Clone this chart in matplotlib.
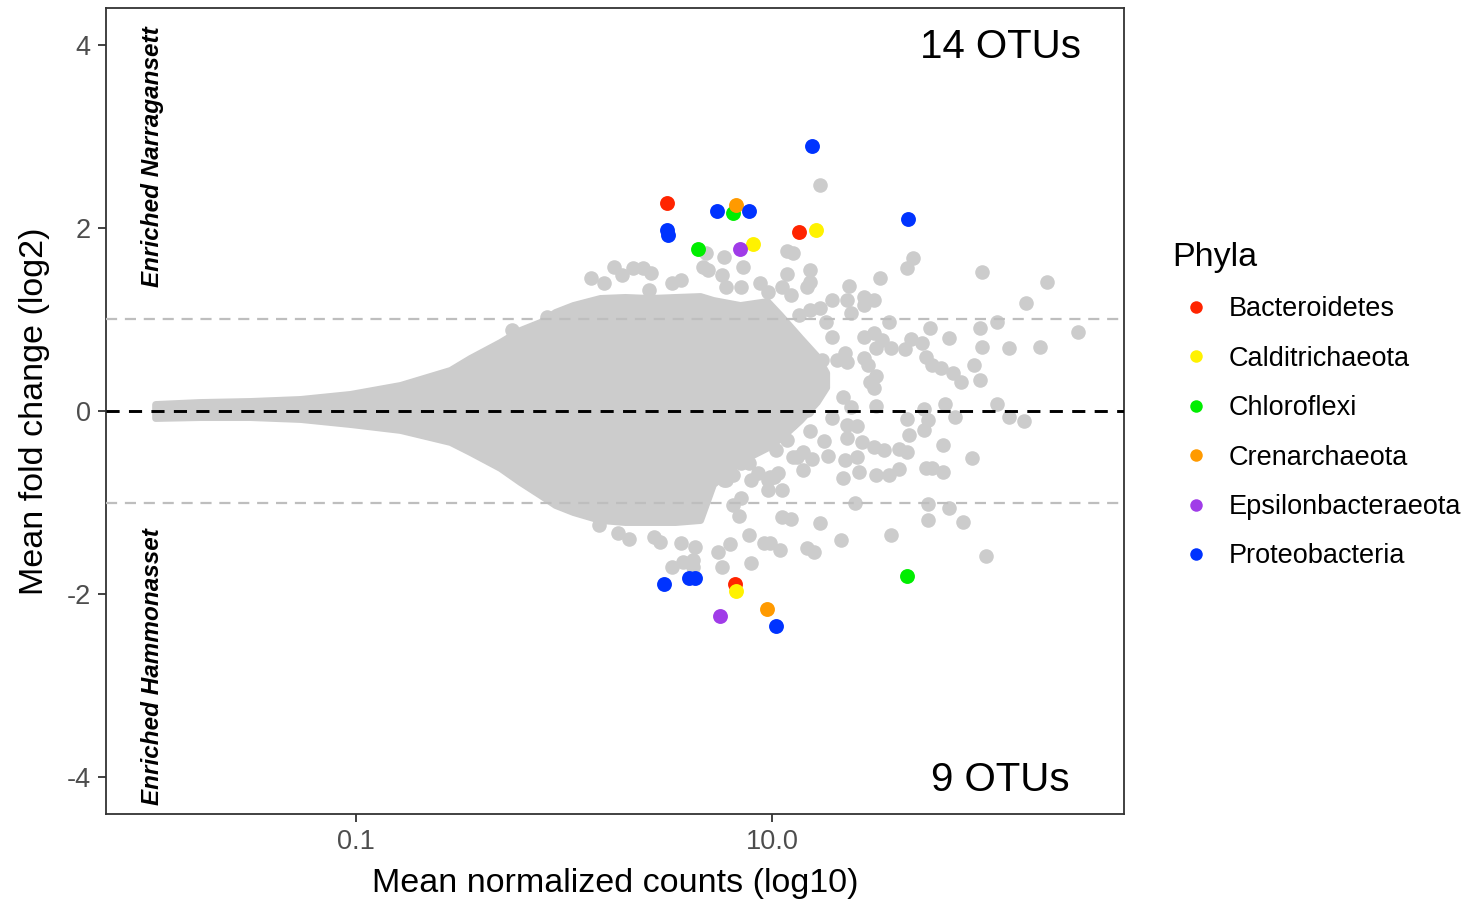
import numpy as np
import matplotlib
matplotlib.use("Agg")
import matplotlib.pyplot as plt
from matplotlib.lines import Line2D

plt.rcParams["font.family"] = ["Liberation Sans", "DejaVu Sans"]

# ---- dense cloud of non-significant OTUs: outer envelope (log10 base mean, log2 FC)
env_log_mean = [-1.966, -1.75, -1.51, -1.269, -1.029, -0.788, -0.548, -0.452, -0.308,
                -0.212, -0.115, -0.043, 0.043, 0.173, 0.293, 0.413, 0.534, 0.654,
                0.716, 0.846, 0.976, 1.038, 1.135, 1.215, 1.26]
env_upper = [0.076, 0.098, 0.109, 0.131, 0.186, 0.284, 0.448, 0.579, 0.753,
             0.884, 0.972, 1.081, 1.157, 1.234, 1.245, 1.234, 1.245, 1.255,
             1.212, 1.157, 1.200, 1.050, 0.800, 0.600, 0.420]
env_lower = [-0.076, -0.066, -0.066, -0.087, -0.142, -0.207, -0.338, -0.448, -0.622,
             -0.775, -0.917, -1.026, -1.103, -1.190, -1.212, -1.212, -1.212, -1.190,
             -0.800, -0.550, -0.400, -0.300, -0.100, 0.100, 0.260]

# ---- scattered non-significant OTUs outside the dense cloud
gray_log_mean = [
    1.23, 0.68, 0.77, 0.86, 0.67, 0.69, 0.76, 0.78, 1.07, 1.10, 1.07, 1.18, 1.18, 1.17,
    1.68, 1.65, 1.52, 1.37, 0.24, 0.33, 0.38, 0.42, 0.28, 0.13, 0.19, 0.94, 0.98, 1.29,
    1.36, 1.44, 1.49, -0.08, -0.25, 0.41, 0.52, 0.56, 0.85, 1.05, 1.09, 2.01, 2.32, 2.22,
    1.38, 1.44, 1.18, 1.23, 1.13, 1.26, 1.56, 1.76, 1.85, 2.00, 2.08, 2.47, 2.01, 2.14,
    2.29, 1.44, 1.49, 1.53, 1.50, 1.57, 1.29, 1.64, 1.67, 1.72, 1.74, 1.77, 1.81, 1.87,
    1.91, 1.97, 2.00, 1.35, 1.31, 1.36, 1.24, 1.44, 1.46, 1.50, 1.47, 1.49, 1.34, 1.38,
    1.50, 1.29, 1.83, 2.08, 1.73, 1.75, 1.73, 1.65, 1.88, 2.14, 2.21, 1.36, 1.41, 1.18,
    1.25, 1.36, 1.43, 1.66, 1.49, 1.54, 1.61, 1.65, 1.82, 1.96, 1.12, 1.15, 1.19, 1.27,
    1.35, 1.41, 1.15, 1.34, 1.42, 1.50, 1.56, 1.61, 1.74, 1.77, 1.82, 1.40, 1.75, 1.85,
    1.75, 1.92, 1.05, 1.09, 1.23, 1.57, 1.33, 1.17, 1.20, 1.04, 0.96, 0.99, 0.89, 0.80,
    0.74, 0.90, 0.76, 2.03, 1.05, 0.98, 0.98, 0.85, 0.81, 0.84, 0.52, 0.57, 0.62, 0.62,
    0.56, 0.63, 0.26, 0.31, 0.43, 0.46, 0.17, 0.77, 0.81, 0.99, 1.03, 0.90,
    1.10, 1.14, 1.18, 1.22, 1.14, 1.10, 1.18, 1.07, 1.17, 1.09, 0.99, 1.02, 0.89,
    1.07, 1.10, 1.01, 0.91, 0.85, 0.78, 0.93, 1.01,
]
gray_lfc = [
    2.47, 1.72, 1.68, 1.57, 1.57, 1.54, 1.48, 1.35, 1.75, 1.72, 1.50, 1.54, 1.41, 1.35,
    1.67, 1.56, 1.45, 1.36, 1.57, 1.56, 1.56, 1.51, 1.48, 1.45, 1.40, 1.40, 1.30, 1.21,
    1.21, 1.24, 1.21, 1.03, 0.88, 1.32, 1.40, 1.43, 1.35, 1.35, 1.27, 1.52, 1.41, 1.18,
    1.07, 1.16, 1.10, 1.12, 1.05, 0.97, 0.97, 0.91, 0.80, 0.91, 0.97, 0.86, 0.70, 0.69,
    0.70, 0.81, 0.85, 0.78, 0.69, 0.69, 0.81, 0.68, 0.79, 0.74, 0.59, 0.50, 0.47, 0.41,
    0.32, 0.50, 0.34, 0.63, 0.56, 0.53, 0.56, 0.58, 0.50, 0.38, 0.32, 0.25, 0.15, 0.04,
    0.05, -0.08, 0.08, 0.08, 0.02, -0.10, -0.21, -0.09, -0.07, -0.07, -0.11, -0.15, -0.16, -0.22,
    -0.33, -0.29, -0.34, -0.26, -0.39, -0.43, -0.41, -0.45, -0.37, -0.51, -0.50, -0.45, -0.52, -0.49,
    -0.53, -0.50, -0.64, -0.73, -0.67, -0.70, -0.70, -0.63, -0.62, -0.62, -0.67, -1.00, -1.02, -1.06,
    -1.19, -1.21, -1.16, -1.18, -1.22, -1.35, -1.41, -1.50, -1.54, -1.52, -1.44, -1.44, -1.35, -1.45,
    -1.54, -1.66, -1.70, -1.58, -0.86, -0.86, -0.75, -0.95, -1.03, -1.15, -1.70, -1.65, -1.63, -1.70,
    -1.44, -1.48, -1.33, -1.40, -1.38, -1.43, -1.24, -0.75, -0.70, -0.72, -0.68, -0.75,
    0.81, 0.67, 0.59, 0.48, 0.37, 0.23, 0.26, 0.04, 0.01, -0.13, -0.28, -0.43, -0.57,
    -0.32, -0.50, -0.72, -0.35, -0.57, -0.75, -0.68, -0.21,
]

# ---- significant OTUs by phylum (log10 base mean, log2 FC)
phyla = ["Bacteroidetes", "Calditrichaeota", "Chloroflexi",
         "Crenarchaeota", "Epsilonbacteraeota", "Proteobacteria"]
phyla_colors = ["#FF2400", "#FFF200", "#00EE00", "#FF9A00", "#A03CE8", "#0033FF"]
sig_log_mean = {
    "Bacteroidetes": [0.495, 1.130, 0.822],
    "Calditrichaeota": [0.909, 1.212, 0.827],
    "Chloroflexi": [0.813, 0.644, 1.649],
    "Crenarchaeota": [0.827, 0.976],
    "Epsilonbacteraeota": [0.846, 0.750],
    "Proteobacteria": [0.495, 0.500, 0.736, 0.889, 1.192, 1.654, 0.481, 0.601, 0.630, 1.019],
}
sig_lfc = {
    "Bacteroidetes": [2.271, 1.954, -1.889],
    "Calditrichaeota": [1.823, 1.976, -1.965],
    "Chloroflexi": [2.162, 1.769, -1.801],
    "Crenarchaeota": [2.249, -2.162],
    "Epsilonbacteraeota": [1.769, -2.238],
    "Proteobacteria": [1.976, 1.921, 2.183, 2.183, 2.893, 2.096, -1.889, -1.823, -1.823, -2.347],
}

n_up = sum(sum(1 for v in vals if v > 0) for vals in sig_lfc.values())
n_down = sum(sum(1 for v in vals if v < 0) for vals in sig_lfc.values())

GRAY = "#CCCCCC"
TXT = "#000000"
TICK = "#4D4D4D"

fig = plt.figure(figsize=(14.71, 9.01), dpi=100)
ax = fig.add_axes([0.0721, 0.0966, 0.6920, 0.8945])

env_x = 10 ** np.array(env_log_mean)
ax.fill_between(env_x, env_lower, env_upper, facecolor=GRAY, edgecolor=GRAY,
                linewidth=5, joinstyle="round", zorder=1)
ax.scatter(10 ** np.array(gray_log_mean), gray_lfc, s=110, color=GRAY,
           linewidths=0, zorder=2)

ax.axhline(1, color="#BEBEBE", lw=1.6, dashes=(5, 3.5), zorder=3)
ax.axhline(-1, color="#BEBEBE", lw=1.6, dashes=(5, 3.5), zorder=3)
ax.axhline(0, color="black", lw=2.1, dashes=(4.5, 3.2), zorder=3)

for name, col in zip(phyla, phyla_colors):
    ax.scatter(10 ** np.array(sig_log_mean[name]), sig_lfc[name], s=115,
               color=col, linewidths=0, zorder=4)

ax.set_xscale("log")
ax.set_xlim(10 ** -2.202, 10 ** 2.692)
ax.set_ylim(-4.40, 4.40)
ax.set_xticks([0.1, 10.0])
ax.set_xticklabels(["0.1", "10.0"])
ax.xaxis.set_minor_locator(matplotlib.ticker.NullLocator())
ax.set_yticks([-4, -2, 0, 2, 4])
ax.set_yticklabels(["-4", "-2", "0", "2", "4"])
ax.tick_params(axis="both", labelsize=19.5, labelcolor=TICK, color="#333333",
               length=6, width=1.3, pad=5)
for sp in ax.spines.values():
    sp.set_color("#333333")
    sp.set_linewidth(1.3)

ax.set_xlabel("Mean normalized counts (log10)", fontsize=24.5, color=TXT, labelpad=9)
ax.set_ylabel("Mean fold change (log2)", fontsize=24.5, color=TXT, labelpad=12)

ax.text(10 ** -1.981, 4.20, "Enriched Narragansett", rotation=90, ha="center",
        va="top", fontsize=17.5, fontweight="bold", fontstyle="italic", color=TXT)
ax.text(10 ** -1.981, -4.30, "Enriched Hammonasset", rotation=90, ha="center",
        va="bottom", fontsize=17.5, fontweight="bold", fontstyle="italic", color=TXT)
ax.text(10 ** 2.096, 3.97, f"{n_up} OTUs", ha="center", va="center",
        fontsize=29, color=TXT)
ax.text(10 ** 2.096, -4.03, f"{n_down} OTUs", ha="center", va="center",
        fontsize=29, color=TXT)

handles = [Line2D([], [], marker="o", ls="none", markersize=9, color=c,
                  markeredgewidth=0) for c in phyla_colors]
leg = fig.legend(handles, phyla, title="Phyla", loc="upper left",
                 bbox_to_anchor=(0.797, 0.7315), frameon=False, fontsize=19.5,
                 title_fontsize=24.5, handlelength=1.78, handletextpad=0.3,
                 labelspacing=0.865, borderpad=0, borderaxespad=0, alignment="left")

fig.savefig("out.png", dpi=100, facecolor="white")
